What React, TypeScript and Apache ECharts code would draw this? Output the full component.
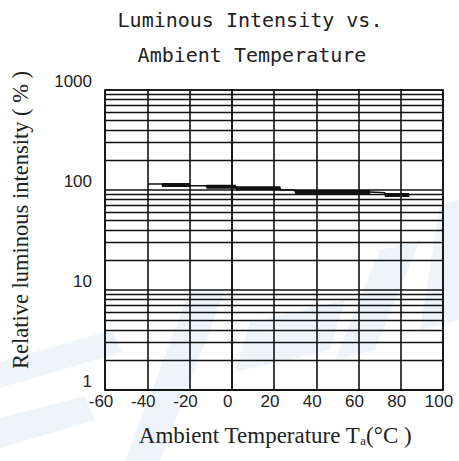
import React, { useEffect, useRef } from "react";
import * as echarts from "echarts";

const titleLines = ["Luminous Intensity vs.", "Ambient Temperature"];
const xTicks = [-60, -40, -20, 0, 20, 40, 60, 80, 100];
const yDecades = [1, 10, 100, 1000];
const minorValues = [2, 3, 4, 5, 6, 7, 8, 9, 20, 30, 40, 50, 60, 70, 80, 90, 200, 300, 400, 500, 600, 700, 800, 900];

// staircase trace (temperature °C, relative intensity %)
const stepTemps = [-40, -33, -19.5, -12, 2, 23, 30, 65.5, 72.5, 84];
const stepValues = [115, 112, 110, 108, 104, 100, 95.5, 94, 89, 89];
// heavier segments of the trace
const thickStart = [-33, -12, 2, 30, 72.5];
const thickEnd = [-19.5, 2, 23, 65.5, 84];
const thickValues = [112, 108, 104, 95.5, 89];

const xName = "Ambient Temperature T";
const yName = "Relative luminous intensity ( % )";

export default function App() {
  const ref = useRef<HTMLDivElement>(null);
  useEffect(() => {
    if (!ref.current) return;
    const chart = echarts.init(ref.current, undefined, { renderer: "svg" });
    const thinData = stepTemps.map((t, i) => [t, stepValues[i]]);
    const thickData: any[] = [];
    thickStart.forEach((s, i) => {
      thickData.push([s, thickValues[i]]);
      thickData.push([thickEnd[i], thickValues[i]]);
      thickData.push([thickEnd[i], "-"]);
    });
    const wm = "rgba(205,224,240,0.35)";
    const labelFont = "'Liberation Sans', Arial, sans-serif";
    chart.setOption({
      animation: false,
      backgroundColor: "#ffffff",
      grid: {
        left: 105,
        right: 16,
        top: 90,
        bottom: 71,
        show: true,
        borderColor: "#111",
        borderWidth: 1.6,
        backgroundColor: "transparent",
      },
      graphic: [
        { type: "polygon", z: -10, shape: { points: [[0, 362], [112, 330], [122, 352], [0, 388]] }, style: { fill: wm } },
        { type: "polygon", z: -10, shape: { points: [[0, 418], [85, 396], [95, 420], [0, 448]] }, style: { fill: wm } },
        { type: "polygon", z: -10, shape: { points: [[125, 461], [160, 461], [225, 290], [190, 290]] }, style: { fill: wm } },
        { type: "polygon", z: -10, shape: { points: [[235, 372], [330, 350], [345, 300], [250, 322]] }, style: { fill: wm } },
        { type: "polygon", z: -10, shape: { points: [[335, 360], [375, 350], [420, 240], [380, 250]] }, style: { fill: wm } },
        { type: "polygon", z: -10, shape: { points: [[420, 330], [459, 320], [459, 200], [440, 205]] }, style: { fill: wm } },
        {
          type: "text",
          x: 250,
          y: 20,
          style: {
            text: titleLines[0],
            fontFamily: "DejaVu Sans Mono",
            fontSize: 20,
            fill: "#222",
            textAlign: "center",
            textVerticalAlign: "middle",
          },
        },
        {
          type: "text",
          x: 252,
          y: 55,
          style: {
            text: titleLines[1],
            fontFamily: "DejaVu Sans Mono",
            fontSize: 20,
            fill: "#222",
            textAlign: "center",
            textVerticalAlign: "middle",
          },
        },
        {
          type: "text",
          x: 20,
          y: 220,
          rotation: Math.PI / 2,
          style: {
            text: yName,
            fontFamily: "Liberation Serif",
            fontSize: 22.5,
            fill: "#222",
            textAlign: "center",
            textVerticalAlign: "middle",
          },
        },
        {
          type: "text",
          x: 275,
          y: 435,
          style: {
            text: `{n|${xName}}{s|a}{n|(°C )}`,
            rich: {
              n: { fontFamily: "Liberation Serif", fontSize: 23, fill: "#222" },
              s: { fontFamily: "Liberation Serif", fontSize: 13, fill: "#222", verticalAlign: "bottom", padding: [11, 0, 0, 0] },
            },
            textAlign: "center",
            textVerticalAlign: "middle",
          },
        },
      ],
      xAxis: {
        type: "value",
        min: xTicks[0],
        max: xTicks[xTicks.length - 1],
        interval: 20,
        axisLine: { show: true, lineStyle: { color: "#111", width: 1.6 } },
        axisTick: { show: false },
        splitLine: { show: true, lineStyle: { color: "#111", width: 1.6 } },
        axisLabel: {
          margin: 3,
          fontFamily: labelFont,
          fontSize: 17,
          color: "#222",
          padding: [0, 8, 0, 0],
          formatter: (v: number) => String(v),
        },
      },
      yAxis: {
        type: "log",
        logBase: 10,
        min: yDecades[0],
        max: yDecades[yDecades.length - 1],
        axisLine: { show: true, lineStyle: { color: "#111", width: 1.6 } },
        axisTick: { show: false },
        splitLine: { show: true, lineStyle: { color: "#111", width: 1.6 } },
        axisLabel: {
          margin: 13,
          fontFamily: labelFont,
          fontSize: 17,
          color: "#222",
          verticalAlign: "bottom",
          formatter: (v: number) => String(Math.round(v)),
        },
      },
      series: [
        {
          type: "line",
          data: thinData,
          step: "end",
          symbol: "none",
          lineStyle: { color: "#111", width: 1.5 },
          z: 3,
          markLine: {
            silent: true,
            symbol: "none",
            label: { show: false },
            lineStyle: { color: "#111", width: 1.3, type: "solid" },
            data: minorValues.map((v) => ({ yAxis: v })),
          },
        },
        {
          type: "line",
          data: thickData,
          symbol: "none",
          connectNulls: false,
          lineStyle: { color: "#111", width: 4 },
          z: 4,
        },
      ],
    });
    return () => chart.dispose();
  }, []);
  return (
    <div
      ref={ref}
      style={{ position: "fixed", left: 0, top: 0, width: 459, height: 461 }}
    />
  );
}
